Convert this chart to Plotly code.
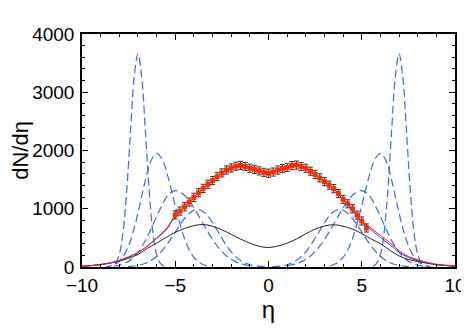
import plotly.graph_objects as go

# measured points (red squares with error bars)
eta_data = [-5.0, -4.75, -4.5, -4.25, -4.0, -3.75, -3.5, -3.25, -3.0, -2.75, -2.5, -2.25,
            -2.0, -1.75, -1.5, -1.25, -1.0, -0.75, -0.5, -0.25, 0.0, 0.25, 0.5, 0.75,
            1.0, 1.25, 1.5, 1.75, 2.0, 2.25, 2.5, 2.75, 3.0, 3.25, 3.5, 3.75, 4.0, 4.25,
            4.5, 4.75, 5.0, 5.25]
dndeta = [895, 960, 1035, 1115, 1195, 1275, 1350, 1420, 1485, 1550, 1615, 1665,
          1700, 1730, 1745, 1725, 1695, 1675, 1650, 1625, 1610, 1630, 1665, 1690,
          1710, 1740, 1750, 1725, 1695, 1645, 1590, 1530, 1465, 1405, 1345, 1260, 1160, 1085,
          1000, 890, 790, 670]
dndeta_err = [70] * len(eta_data)

# full model (red) and second model (blue solid), black curve
eta_grid = [-10, -9.5, -9, -8.5, -8, -7.5, -7, -6.5, -6, -5.5, -5, -4.5, -4, -3.5, -3, -2.5, -2,
            -1.5, -1, -0.5, 0, 0.5, 1, 1.5, 2, 2.5, 3, 3.5, 4, 4.5, 5, 5.5, 6, 6.5, 7, 7.5, 8,
            8.5, 9, 9.5, 10]
red_total = [15, 25, 45, 70, 115, 175, 250, 355, 490, 630, 870, 1035, 1195, 1350, 1485, 1615, 1700,
             1745, 1695, 1650, 1615, 1665, 1710, 1750, 1695, 1590, 1465, 1345, 1160, 1000, 790, 670,
             540, 420, 280, 180, 125, 80, 47, 32, 23]
blue_total = [12, 22, 40, 65, 105, 165, 245, 360, 500, 650, 880, 1035, 1195, 1350, 1485, 1615, 1700,
              1745, 1695, 1650, 1615, 1665, 1710, 1750, 1695, 1590, 1465, 1345, 1160, 990, 770, 640,
              505, 385, 255, 165, 110, 70, 40, 25, 15]
black_curve = [12, 25, 42, 68, 100, 150, 215, 320, 410, 505, 595, 660, 710, 730, 700, 640, 560,
               480, 410, 355, 335, 360, 410, 480, 570, 650, 705, 725, 700, 650, 575, 480, 400,
               290, 190, 130, 95, 65, 40, 25, 12]

# dashed source curves, right-hand side (left side is the mirror)
eta_a = [5.6, 5.8, 6.0, 6.2, 6.4, 6.6, 6.8, 7.0, 7.2, 7.4, 7.6, 7.8, 8.0, 8.2, 8.4]
val_a = [14, 62, 215, 597, 1320, 2326, 3268, 3660, 3268, 2326, 1320, 597, 215, 62, 14]
eta_b = [3.3, 3.6, 3.9, 4.2, 4.5, 4.8, 5.1, 5.4, 5.7, 6.0, 6.3, 6.6, 6.9, 7.2, 7.5, 7.8, 8.1, 8.4, 8.7]
val_b = [22, 56, 128, 264, 486, 802, 1183, 1561, 1845, 1950, 1824, 1492, 1068, 668, 366, 175, 74, 27, 9]
eta_c = [1.0, 1.4, 1.8, 2.2, 2.6, 3.0, 3.4, 3.8, 4.2, 4.6, 5.0, 5.4, 5.8, 6.2, 6.6, 7.0, 7.4, 7.8, 8.2, 8.6]
val_c = [22, 48, 96, 177, 302, 472, 682, 907, 1113, 1258, 1310, 1226, 1006, 722, 455, 251, 121, 51, 19, 6]
eta_d = [0.2, 0.6, 1.0, 1.4, 1.8, 2.2, 2.6, 3.0, 3.4, 3.8, 4.2, 4.6, 5.0, 5.4, 5.8, 6.2, 6.6, 7.0, 7.4, 7.8]
val_d = [5, 14, 39, 92, 190, 344, 546, 760, 927, 990, 936, 792, 600, 407, 247, 134, 65, 28, 11, 4]

BLUE = "#3a66ff"
FONT = "Liberation Sans"

fig = go.Figure()

for ex, ey in [(eta_a, val_a), (eta_b, val_b), (eta_c, val_c), (eta_d, val_d)]:
    fig.add_trace(go.Scatter(x=ex, y=ey, mode="lines", line_shape="spline",
                             line=dict(color=BLUE, width=1.2, dash="8px,4px")))
    fig.add_trace(go.Scatter(x=[-v for v in ex], y=ey, mode="lines", line_shape="spline",
                             line=dict(color=BLUE, width=1.2, dash="8px,4px")))

fig.add_trace(go.Scatter(x=eta_grid, y=black_curve, mode="lines", line_shape="spline",
                         line=dict(color="#222222", width=1)))
fig.add_trace(go.Scatter(x=eta_grid, y=blue_total, mode="lines", line_shape="spline",
                         line=dict(color="#2244ff", width=1)))
fig.add_trace(go.Scatter(x=eta_grid, y=red_total, mode="lines", line_shape="spline",
                         line=dict(color="#ff1a00", width=1)))
fig.add_trace(go.Scatter(x=eta_data, y=dndeta, mode="markers",
                         marker=dict(symbol="square", size=5, color="#ff2a00"),
                         error_y=dict(type="data", array=dndeta_err, color="#333333",
                                      thickness=1, width=2.5)))

axis = dict(showline=True, linecolor="black", linewidth=1.5, mirror="allticks",
            ticks="inside", ticklen=6, tickwidth=1.2, tickcolor="black",
            showgrid=False, zeroline=False, automargin=False,
            tickfont=dict(family=FONT, size=19, color="black"))

fig.update_xaxes(**axis, range=[-10, 10], tick0=-10, dtick=5,
                 minor=dict(ticks="inside", ticklen=3, dtick=1, tickcolor="black"),
                 title=dict(text="η", font=dict(family=FONT, size=24, color="black"),
                            standoff=2))
fig.update_yaxes(**axis, range=[0, 4000], dtick=1000, ticklabelstandoff=2,
                 minor=dict(ticks="inside", ticklen=3, dtick=200, tickcolor="black"),
                 title=dict(text="dN/dη", font=dict(family=FONT, size=22, color="black"),
                            standoff=6))

# page body adds an 8px offset, so the figure is drawn 8px smaller
fig.update_layout(width=461, height=323, showlegend=False,
                  margin=dict(l=74, r=14, t=26, b=64),
                  plot_bgcolor="white", paper_bgcolor="white")

fig.write_html("out.html")
